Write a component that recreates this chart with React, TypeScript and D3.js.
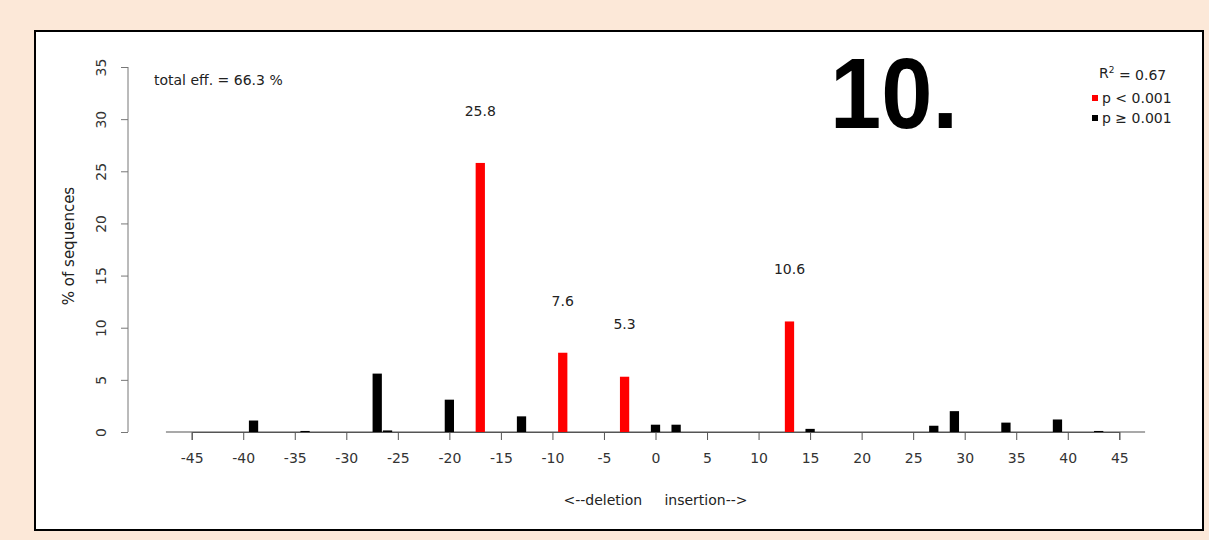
import * as d3 from "d3";
import { useEffect, useRef } from "react";

// indel size (negative = deletion) and % of sequences
const indelSizes = [-39, -34, -27, -26, -20, -17, -13, -9, -3, 0, 2, 13, 15, 27, 29, 34, 39, 43];
const percents = [1.1, 0.1, 5.6, 0.15, 3.1, 25.8, 1.5, 7.6, 5.3, 0.7, 0.7, 10.6, 0.3, 0.6, 2.0, 0.9, 1.2, 0.1];
const significant = [false, false, false, false, false, true, false, true, true, false, false, true, false, false, false, false, false, false];
const xTicks = [-45, -40, -35, -30, -25, -20, -15, -10, -5, 0, 5, 10, 15, 20, 25, 30, 35, 40, 45];
const yTicks = [0, 5, 10, 15, 20, 25, 30, 35];
const legendLabels = ["p < 0.001", "p \u2265 0.001"];
const legendColors = ["#ff0000", "#000000"];

const FONT = "DejaVu Sans, sans-serif";

export default function App() {
    const ref = useRef<SVGSVGElement | null>(null);

    useEffect(() => {
        if (!ref.current) return;
        const svg = d3.select(ref.current);
        svg.selectAll("*").remove();

        const width = 1209;
        const height = 540;
        svg.attr("width", width).attr("height", height);

        svg.append("rect")
            .attr("width", width)
            .attr("height", height)
            .attr("fill", "#fce8d8");

        svg.append("rect")
            .attr("x", 35)
            .attr("y", 31)
            .attr("width", 1168)
            .attr("height", 499)
            .attr("fill", "#ffffff")
            .attr("stroke", "#000")
            .attr("stroke-width", 2);

        const x = d3.scaleLinear().domain([-45, 45]).range([191.7, 1119.3]);
        const y = d3.scaleLinear().domain([0, 35]).range([432, 67]);
        const barW = x(0.45) - x(-0.45);

        // baseline
        svg.append("line")
            .attr("x1", x(-47.5))
            .attr("x2", x(47.5))
            .attr("y1", y(0))
            .attr("y2", y(0))
            .attr("stroke", "#555")
            .attr("stroke-width", 1.2);

        // x axis
        const xAxis = svg.append("g")
            .attr("transform", `translate(0,${y(0)})`)
            .call(d3.axisBottom(x).tickValues(xTicks).tickSize(8).tickPadding(13).tickFormat((d) => `${d}`));
        xAxis.select(".domain").attr("stroke", "#555");
        xAxis.selectAll(".tick line").attr("stroke", "#555");
        xAxis.selectAll("text").attr("font-family", FONT).attr("font-size", 14).attr("fill", "#333");

        // y axis
        const yAxis = svg.append("g")
            .attr("transform", "translate(128,0)")
            .call(d3.axisLeft(y).tickValues(yTicks).tickSize(7).tickFormat((d) => `${d}`));
        yAxis.select(".domain").attr("stroke", "#777").attr("d", `M0,${y(0)}V${y(35)}`);
        yAxis.selectAll(".tick line").attr("stroke", "#777");
        yAxis.selectAll(".tick text")
            .attr("font-family", FONT)
            .attr("font-size", 14)
            .attr("fill", "#333")
            .attr("x", 0)
            .attr("dy", 0)
            .attr("text-anchor", "middle")
            .attr("transform", "translate(-22,0) rotate(-90)");

        // bars
        svg.append("g")
            .selectAll("rect")
            .data(indelSizes)
            .join("rect")
            .attr("x", (d) => x(d) - barW / 2)
            .attr("width", barW)
            .attr("y", (_, i) => y(percents[i]))
            .attr("height", (_, i) => y(0) - y(percents[i]))
            .attr("fill", (_, i) => (significant[i] ? "#ff0000" : "#000000"));

        // value labels for significant bars
        indelSizes.forEach((d, i) => {
            if (!significant[i]) return;
            svg.append("text")
                .attr("x", x(d))
                .attr("y", y(percents[i] + 5))
                .attr("dy", "0.35em")
                .attr("text-anchor", "middle")
                .attr("font-family", FONT)
                .attr("font-size", 14)
                .attr("fill", "#222")
                .text(percents[i].toFixed(1));
        });

        svg.append("text")
            .attr("x", 154)
            .attr("y", 80)
            .attr("dy", "0.35em")
            .attr("font-family", FONT)
            .attr("font-size", 14)
            .attr("fill", "#222")
            .text("total eff. = 66.3 %");

        svg.append("text")
            .attr("transform", "translate(69,246) rotate(-90)")
            .attr("text-anchor", "middle")
            .attr("dy", "0.35em")
            .attr("font-family", FONT)
            .attr("font-size", 15)
            .attr("fill", "#222")
            .text("% of sequences");

        svg.append("text")
            .attr("x", x(0))
            .attr("y", 500)
            .attr("dy", "0.35em")
            .attr("text-anchor", "middle")
            .attr("font-family", FONT)
            .attr("font-size", 14)
            .attr("fill", "#222")
            .attr("xml:space", "preserve")
            .style("white-space", "pre")
            .text("<--deletion     insertion-->");

        // big panel number
        svg.append("text")
            .attr("x", 830)
            .attr("y", 128)
            .attr("font-family", "Liberation Sans, Arial, sans-serif")
            .attr("font-weight", "bold")
            .attr("font-size", 100)
            .attr("textLength", 128)
            .attr("lengthAdjust", "spacingAndGlyphs")
            .attr("fill", "#000")
            .text("10.");

        // legend
        const r2 = svg.append("text")
            .attr("x", 1099)
            .attr("y", 73)
            .attr("dy", "0.35em")
            .attr("font-family", FONT)
            .attr("font-size", 14)
            .attr("fill", "#222");
        r2.append("tspan").text("R");
        r2.append("tspan").attr("dy", "-0.5em").attr("font-size", 9).text("2");
        r2.append("tspan").attr("dy", "0.5em").text(" = 0.67");

        legendLabels.forEach((label, i) => {
            const ly = 98 + i * 20;
            svg.append("rect")
                .attr("x", 1092)
                .attr("y", ly - 3)
                .attr("width", 6)
                .attr("height", 6)
                .attr("fill", legendColors[i]);
            svg.append("text")
                .attr("x", 1102)
                .attr("y", ly)
                .attr("dy", "0.35em")
                .attr("font-family", FONT)
                .attr("font-size", 14)
                .attr("fill", "#222")
                .text(label);
        });
    }, []);

    return <svg ref={ref} style={{ position: "absolute", left: 0, top: 0, display: "block" }}></svg>;
}
